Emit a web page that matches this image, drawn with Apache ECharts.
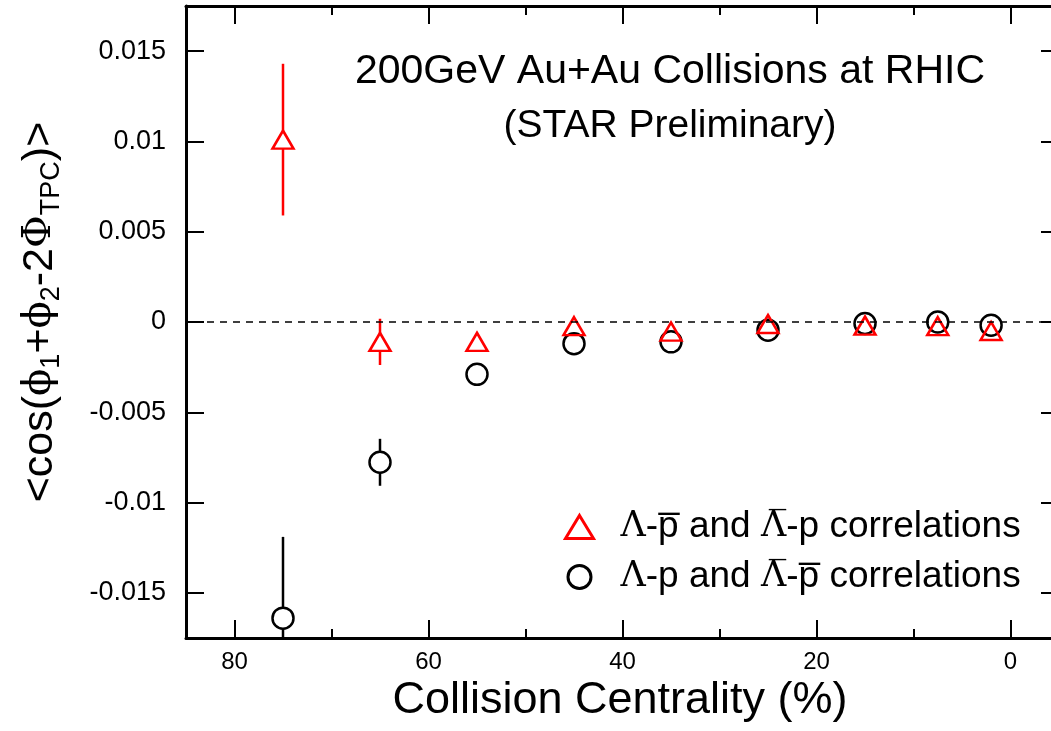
<!DOCTYPE html>
<html>
<head>
<meta charset="utf-8">
<script src="https://cdn.jsdelivr.net/npm/echarts@6/dist/echarts.min.js"></script>
<style>
  html, body { margin: 0; padding: 0; background: #fff; }
  #main { width: 1051px; height: 731px; }
</style>
</head>
<body>
<div id="main"></div>
<script>
// centrality bins (%)
var centrality = [75, 65, 55, 45, 35, 25, 15, 7.5, 2];
// Λ-p̄ and Λ̄-p  (red triangles)
var oppValue = [0.0101, -0.0011, -0.0011, -0.00023, -0.00053, -0.00011, -0.0002, -0.00023, -0.0005];
var oppError = [0.0042, 0.00128, 0.0004, 0.0003, 0.0003, 0.0002, 0.0002, 0.0002, 0.0002];
// Λ-p and Λ̄-p̄  (black circles)
var sameValue = [-0.0164, -0.00777, -0.0029, -0.0012, -0.0011, -0.00045, -0.00008, 0.0, -0.00018];
var sameError = [0.0045, 0.0013, 0.0004, 0.0003, 0.0003, 0.0002, 0.0002, 0.0002, 0.0002];
// ticks
var xMajorTicks = [0, 20, 40, 60, 80];
var xMinorTicks = [10, 30, 50, 70];
var yTicks = [-0.015, -0.01, -0.005, 0, 0.005, 0.01, 0.015];

var FONT = 'Liberation Sans';

function points(values) {
  return centrality.map(function (c, i) { return [c, values[i]]; });
}

// vertical error bars, broken where the hollow marker sits
function errorBars(values, errors, color, gap) {
  var data = centrality.map(function (c, i) {
    return [c, values[i] - errors[i], values[i] + errors[i], values[i]];
  });
  return {
    type: 'custom',
    silent: true,
    data: data,
    encode: { x: 0, y: [1, 2] },
    z: 2,
    renderItem: function (params, api) {
      var cs = params.coordSys;
      var lo = api.coord([api.value(0), api.value(1)]);
      var hi = api.coord([api.value(0), api.value(2)]);
      var mid = api.coord([api.value(0), api.value(3)]);
      var top = Math.max(hi[1], cs.y);
      var bot = Math.min(lo[1], cs.y + cs.height);
      var st = { stroke: color, lineWidth: 2.5 };
      var kids = [];
      if (mid[1] - gap > top) {
        kids.push({ type: 'line', shape: { x1: mid[0], y1: top, x2: mid[0], y2: mid[1] - gap }, style: st });
      }
      if (mid[1] + gap < bot) {
        kids.push({ type: 'line', shape: { x1: mid[0], y1: mid[1] + gap, x2: mid[0], y2: bot }, style: st });
      }
      return { type: 'group', children: kids };
    }
  };
}

function xAxisDef(pos, ticks, len, showLine, showLabel) {
  return {
    type: 'value', position: pos, min: -5, max: 85, inverse: true,
    axisLine: { show: showLine, onZero: false, lineStyle: { color: '#000', width: 3 } },
    axisTick: { show: true, inside: true, length: len, customValues: ticks, lineStyle: { color: '#000', width: 2 } },
    axisLabel: { show: showLabel, customValues: ticks, fontSize: 24, color: '#000', margin: 12, fontFamily: FONT },
    splitLine: { show: false }
  };
}

function yAxisDef(pos, showLabel) {
  return {
    type: 'value', position: pos, min: -0.0175, max: 0.0175,
    axisLine: { show: pos === 'left', onZero: false, lineStyle: { color: '#000', width: 3 } },
    axisTick: { show: true, inside: true, length: 18, customValues: yTicks, lineStyle: { color: '#000', width: 2 } },
    axisLabel: {
      show: showLabel, customValues: yTicks, fontSize: 27, color: '#000', margin: 20, fontFamily: FONT,
      formatter: function (v) { return String(Math.round(v * 1000) / 1000); }
    },
    splitLine: { show: false }
  };
}

var chart = echarts.init(document.getElementById('main'));

var option = {
  animation: false,
  backgroundColor: '#fff',
  textStyle: { fontFamily: FONT },
  grid: { left: 186, top: 6, width: 873, height: 632, containLabel: false, outerBoundsMode: 'none' },
  xAxis: [
    xAxisDef('bottom', xMajorTicks, 18, true, true),
    xAxisDef('bottom', xMinorTicks, 9, false, false),
    xAxisDef('top', xMajorTicks, 18, true, false),
    xAxisDef('top', xMinorTicks, 9, false, false)
  ],
  yAxis: [
    yAxisDef('left', true),
    yAxisDef('right', false)
  ],
  legend: {
    orient: 'vertical',
    left: 559,
    top: 502,
    itemWidth: 28,
    itemHeight: 23,
    itemGap: 10,
    data: ['opp', 'same'],
    itemStyle: { borderWidth: 3 },
    formatter: function (name) {
      if (name === 'opp') return '{sp|}{g|\u039B}-p\u0305 and {g|\u039B\u0305}-p correlations';
      return '{sp|}{g|\u039B}-p and {g|\u039B\u0305}-p\u0305 correlations';
    },
    textStyle: {
      fontSize: 37, color: '#000', fontFamily: FONT, lineHeight: 40,
      rich: {
        sp: { width: 22, lineHeight: 40 },
        g: { fontFamily: 'DejaVu Serif', fontSize: 35, lineHeight: 40 }
      }
    }
  },
  series: [
    errorBars(sameValue, sameError, '#000', 10),
    {
      name: 'same',
      type: 'scatter',
      data: points(sameValue),
      symbol: 'circle',
      symbolSize: 21,
      itemStyle: { color: 'rgba(255,255,255,0)', borderColor: '#000', borderWidth: 2.5, opacity: 1 },
      z: 3,
      markLine: {
        silent: true,
        symbol: ['none', 'none'],
        label: { show: false },
        lineStyle: { color: '#000', width: 1.5, type: [7, 6], opacity: 1 },
        data: [{ yAxis: 0 }]
      }
    },
    errorBars(oppValue, oppError, '#ff0000', 9),
    {
      name: 'opp',
      type: 'scatter',
      data: points(oppValue),
      symbol: 'triangle',
      symbolSize: [21, 18],
      itemStyle: { color: 'rgba(255,255,255,0)', borderColor: '#ff0000', borderWidth: 2.5, opacity: 1 },
      z: 4
    }
  ],
  graphic: [
    {
      type: 'text', x: 670, y: 72,
      style: { text: '200GeV Au+Au Collisions at RHIC', fontSize: 41, fontFamily: FONT, fill: '#000', align: 'center', verticalAlign: 'middle' }
    },
    {
      type: 'text', x: 670, y: 126,
      style: { text: '(STAR Preliminary)', fontSize: 39, fontFamily: FONT, fill: '#000', align: 'center', verticalAlign: 'middle' }
    },
    {
      type: 'text', x: 620, y: 701,
      style: { text: 'Collision Centrality (%)', fontSize: 45, fontFamily: FONT, fill: '#000', align: 'center', verticalAlign: 'middle' }
    },
    {
      type: 'text', x: 40, y: 312, rotation: Math.PI / 2,
      style: {
        text: '<cos({g|\u03D5}{s|1}+{g|\u03D5}{s|2}-2{g|\u03A6}{s|TPC})>',
        fontSize: 43, fontFamily: FONT, fill: '#000', align: 'center', verticalAlign: 'middle', lineHeight: 50,
        rich: {
          g: { fontFamily: 'DejaVu Serif', fontSize: 40, lineHeight: 50 },
          s: { fontSize: 27, lineHeight: 34, verticalAlign: 'bottom' }
        }
      }
    }
  ]
};

chart.setOption(option);
</script>
</body>
</html>
